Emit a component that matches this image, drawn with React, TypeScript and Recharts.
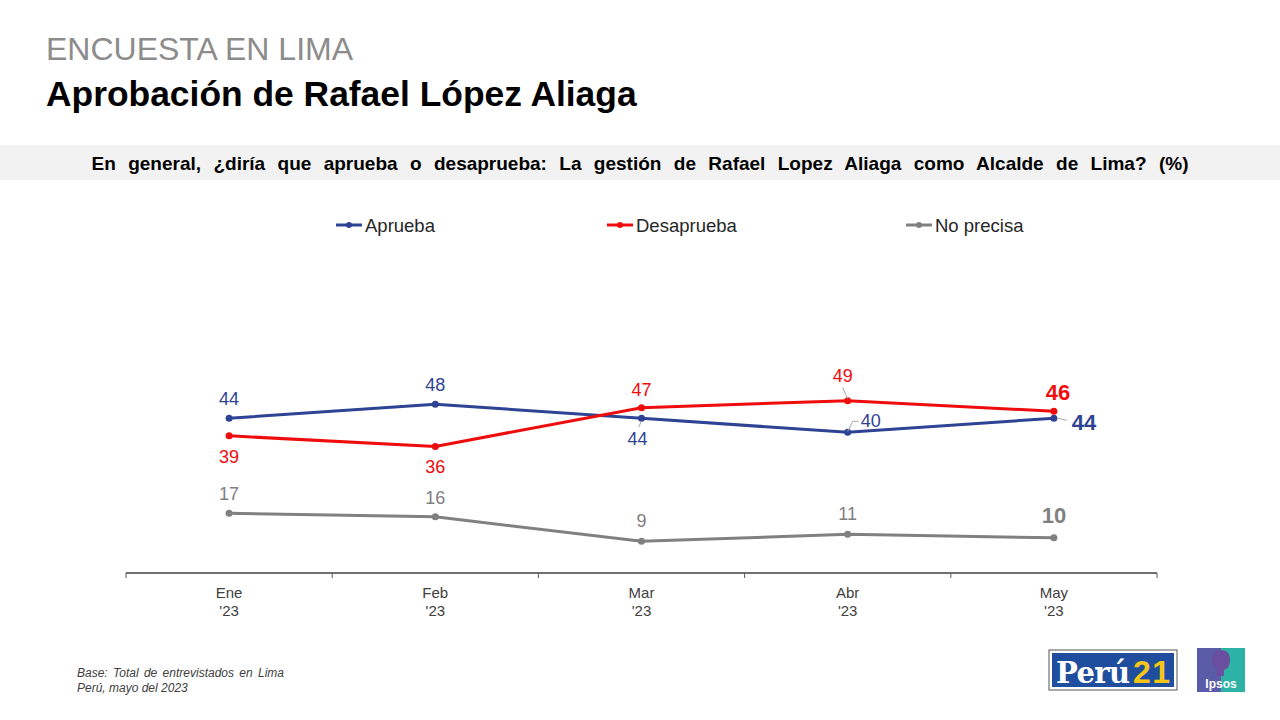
import React from 'react';
import { LineChart, Line, XAxis, YAxis, LabelList } from 'recharts';

const categories = ['Ene', 'Feb', 'Mar', 'Abr', 'May'];
const yearLabels = ["'23", "'23", "'23", "'23", "'23"];
const aprueba = [44, 48, 44, 40, 44];
const desaprueba = [39, 36, 47, 49, 46];
const noPrecisa = [17, 16, 9, 11, 10];

const data = categories.map((c, i) => ({
  month: c,
  year: yearLabels[i],
  aprueba: aprueba[i],
  desaprueba: desaprueba[i],
  noPrecisa: noPrecisa[i],
}));

const BLUE = '#2E4394';
const RED = '#EE0C0C';
const GRAY = '#808080';
const FONT = '"Liberation Sans", Arial, sans-serif';

const W = 1280;
const H = 720;
const MARGIN = { top: 362, right: 123, left: 126, bottom: 87 };
const PLOT_W = W - MARGIN.left - MARGIN.right;
const BAND = PLOT_W / categories.length;

type Place = { dx?: number; dy: number; bold?: boolean; leader?: number[][] };

const aprPlace: Place[] = [
  { dy: -19 },
  { dy: -19 },
  { dx: -4, dy: 21, leader: [[0, 3], [-3, 9]] },
  { dx: 23, dy: -11, leader: [[0, -1], [5, -11], [11, -11]] },
  { dx: 30, dy: 4, bold: true, leader: [[4, 0], [13, 2]] },
];
const desPlace: Place[] = [
  { dy: 21 },
  { dy: 21 },
  { dy: -18 },
  { dx: -5, dy: -25, leader: [[0, -2], [-5, -13]] },
  { dx: 4, dy: -19, bold: true },
];
const npPlace: Place[] = [
  { dy: -19 },
  { dy: -19 },
  { dy: -20 },
  { dy: -20 },
  { dy: -22, bold: true },
];

const makeLabel = (color: string, places: Place[]) => (props: any) => {
  const { x, y, value, index } = props;
  const p = places[index] || { dy: -19 };
  const lx = x + (p.dx || 0);
  const ly = y + p.dy;
  return (
    <g>
      {p.leader && (
        <polyline
          points={p.leader.map((pt) => `${x + pt[0]},${y + pt[1]}`).join(' ')}
          fill="none"
          stroke="#A6A6A6"
          strokeWidth={1}
        />
      )}
      <text
        x={lx}
        y={ly}
        textAnchor="middle"
        dominantBaseline="central"
        fill={color}
        fontFamily={FONT}
        fontSize={p.bold ? 22 : 18}
        fontWeight={p.bold ? 'bold' : 'normal'}
      >
        {value}
      </text>
    </g>
  );
};

const MonthTick = (props: any) => {
  const { x, y, payload, index } = props;
  const i = index ?? categories.indexOf(payload.value);
  const axisY = y;
  return (
    <g>
      <line x1={x - BAND / 2} x2={x - BAND / 2} y1={axisY} y2={axisY + 5} stroke="#595959" strokeWidth={1} />
      {i === categories.length - 1 && (
        <line x1={x + BAND / 2} x2={x + BAND / 2} y1={axisY} y2={axisY + 5} stroke="#595959" strokeWidth={1} />
      )}
      <text x={x} y={axisY + 19} textAnchor="middle" dominantBaseline="central" fill="#404040" fontFamily={FONT} fontSize={15}>
        {payload.value}
      </text>
      <text x={x} y={axisY + 37} textAnchor="middle" dominantBaseline="central" fill="#404040" fontFamily={FONT} fontSize={15}>
        {yearLabels[i]}
      </text>
    </g>
  );
};

const legendItems = [
  { name: 'Aprueba', color: BLUE, x: 336 },
  { name: 'Desaprueba', color: RED, x: 607 },
  { name: 'No precisa', color: GRAY, x: 906 },
];

export default function App() {
  return (
    <div style={{ position: 'absolute', left: 0, top: 0, width: W, height: H, background: '#fff', overflow: 'hidden', fontFamily: FONT }}>
      <svg width={W} height={H} style={{ position: 'absolute', left: 0, top: 0 }}>
        <text x={46} y={60} fontFamily={FONT} fontSize={32} fill="#8C8C8C">ENCUESTA EN LIMA</text>
        <text x={46} y={106} fontFamily={FONT} fontSize={35.4} fontWeight="bold" fill="#000">Aprobación de Rafael López Aliaga</text>
        <rect x={0} y={145} width={W} height={35} fill="#F2F2F2" />
        <text x={640} y={170} textAnchor="middle" fontFamily={FONT} fontSize={19} fontWeight="bold" fill="#000" wordSpacing={7.1}>
          En general, ¿diría que aprueba o desaprueba: La gestión de Rafael Lopez Aliaga como Alcalde de Lima? (%)
        </text>
        {legendItems.map((it) => (
          <g key={it.name}>
            <line x1={it.x} x2={it.x + 26} y1={225} y2={225} stroke={it.color} strokeWidth={3} />
            <circle cx={it.x + 13} cy={225} r={3} fill={it.color} />
            <text x={it.x + 29} y={225} dominantBaseline="central" fontFamily={FONT} fontSize={18.5} fill="#262626">{it.name}</text>
          </g>
        ))}
        <text x={77} y={677} fontFamily={FONT} fontSize={12} fontStyle="italic" fill="#404040" wordSpacing={2}>Base: Total de entrevistados en Lima</text>
        <text x={77} y={692} fontFamily={FONT} fontSize={12} fontStyle="italic" fill="#404040">Perú, mayo del 2023</text>
        {/* Perú21 logo */}
        <rect x={1049} y={650} width={128} height={40} fill="#fff" stroke="#555" strokeWidth={1} />
        <rect x={1052} y={653} width={122} height={34} fill="#1F4E9E" />
        <text x={1056} y={683} fontFamily='"DejaVu Serif", serif' fontWeight="bold" fontSize={29} fill="#fff" textLength={74}>Perú</text>
        <text x={1133} y={683} fontFamily={FONT} fontWeight="bold" fontSize={32} fill="#F5C518" textLength={37}>21</text>
        {/* Ipsos logo */}
        <rect x={1197} y={648} width={48} height={44} fill="#5A5CA8" />
        <path d="M1221 648 L1245 648 L1245 692 L1221 692 Z" fill="#2DB2A6" />
        <path d="M1212 660 Q1212 650 1221 650 Q1230 650 1230 660 Q1230 668 1224 670 L1224 676 L1216 676 L1216 669 Q1212 666 1212 660 Z" fill="#6A4FA0" />
        <text x={1221} y={688} textAnchor="middle" fontFamily={FONT} fontWeight="bold" fontSize={12} fill="#fff">Ipsos</text>
      </svg>
      <div style={{ position: 'absolute', left: 0, top: 0 }}>
        <LineChart width={W} height={H} data={data} margin={MARGIN}>
          <XAxis
            dataKey="month"
            height={60}
            tickSize={0}
            tickMargin={0}
            tickLine={false}
            padding={{ left: BAND / 2, right: BAND / 2 }}
            axisLine={{ stroke: '#404040', strokeWidth: 1.3 }}
            tick={<MonthTick />}
            interval={0}
          />
          <YAxis hide domain={[0, 60]} />
          <Line type="linear" dataKey="noPrecisa" stroke={GRAY} strokeWidth={3} dot={{ r: 3.5, fill: GRAY, stroke: GRAY, strokeWidth: 0 }} isAnimationActive={false}>
            <LabelList dataKey="noPrecisa" content={makeLabel(GRAY, npPlace)} />
          </Line>
          <Line type="linear" dataKey="aprueba" stroke={BLUE} strokeWidth={3} dot={{ r: 3.5, fill: BLUE, stroke: BLUE, strokeWidth: 0 }} isAnimationActive={false}>
            <LabelList dataKey="aprueba" content={makeLabel(BLUE, aprPlace)} />
          </Line>
          <Line type="linear" dataKey="desaprueba" stroke={RED} strokeWidth={3} dot={{ r: 3.5, fill: RED, stroke: RED, strokeWidth: 0 }} isAnimationActive={false}>
            <LabelList dataKey="desaprueba" content={makeLabel(RED, desPlace)} />
          </Line>
        </LineChart>
      </div>
    </div>
  );
}
